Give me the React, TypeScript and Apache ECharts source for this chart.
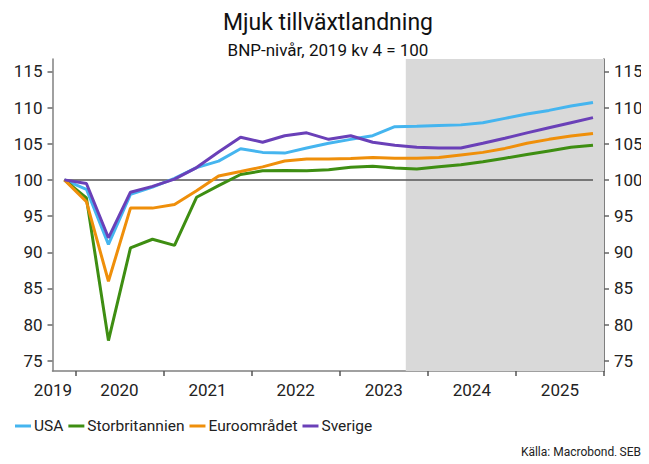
import React, { useEffect, useRef } from "react";
import * as echarts from "echarts";

const quarters = [
  "2019 kv4",
  "2020 kv1", "2020 kv2", "2020 kv3", "2020 kv4",
  "2021 kv1", "2021 kv2", "2021 kv3", "2021 kv4",
  "2022 kv1", "2022 kv2", "2022 kv3", "2022 kv4",
  "2023 kv1", "2023 kv2", "2023 kv3", "2023 kv4",
  "2024 kv1", "2024 kv2", "2024 kv3", "2024 kv4",
  "2025 kv1", "2025 kv2", "2025 kv3", "2025 kv4",
];

const usa = [
  100, 98.7, 91.1, 98.0, 99.0, 100.2, 101.7, 102.6, 104.3, 103.8, 103.7, 104.4, 105.05,
  105.6, 106.1, 107.35, 107.4, 107.5, 107.6, 107.9, 108.5, 109.1, 109.6, 110.2, 110.7,
];
const storbritannien = [
  100, 97.5, 77.8, 90.6, 91.8, 90.95, 97.6, 99.2, 100.75, 101.25, 101.3, 101.25, 101.4,
  101.75, 101.9, 101.65, 101.5, 101.8, 102.1, 102.5, 103.0, 103.5, 104.0, 104.5, 104.8,
];
const euroomradet = [
  100, 97.0, 86.0, 96.1, 96.1, 96.6, 98.5, 100.55, 101.15, 101.8, 102.6, 102.9, 102.9,
  102.95, 103.1, 103.0, 103.0, 103.1, 103.45, 103.8, 104.35, 105.05, 105.6, 106.05, 106.4,
];
const sverige = [
  100, 99.5, 92.0, 98.3, 99.1, 100.1, 101.7, 103.85, 105.9, 105.2, 106.1, 106.5, 105.6,
  106.1, 105.2, 104.8, 104.5, 104.4, 104.4, 105.05, 105.75, 106.5, 107.2, 107.9, 108.6,
];

const seriesNames = ["USA", "Storbritannien", "Euroområdet", "Sverige"];
const seriesColors = ["#45b5ef", "#3e8e12", "#ef8f0a", "#6a40b8"];
const seriesValues = [usa, storbritannien, euroomradet, sverige];

const yearTicks = [2020, 2021, 2022, 2023, 2024, 2025, 2026];
const yearLabels = [2019, 2020, 2021, 2022, 2023, 2024, 2025];
const yTicks = [75, 80, 85, 90, 95, 100, 105, 110, 115];
const forecastStart = 2023.75;
const baseline = 100;

const quarterToX = (q: string) => {
  const [y, k] = q.split(" kv");
  return Number(y) + (Number(k) - 0.5) / 4;
};

const X_MIN = 2019.74;
const X_MAX = 2026.0;
const FONT = "Roboto";

export default function App() {
  const ref = useRef<HTMLDivElement>(null);

  useEffect(() => {
    if (!ref.current) return;
    const chart = echarts.init(ref.current, undefined, { renderer: "svg" });
    const xs = quarters.map(quarterToX);
    const labelVals = yearLabels.map((y) => (y === 2019 ? X_MIN + 0.005 : y + 0.5));

    const yAxisCommon = {
      type: "value",
      min: 73.6,
      max: 116.7,
      splitLine: { show: false },
      axisTick: { show: true, inside: false, length: 5, customValues: yTicks, lineStyle: { color: "#666", width: 1.5 } },
      axisLabel: { customValues: yTicks, fontFamily: FONT, fontSize: 17, color: "#222", margin: 10 },
    };

    const series: any[] = seriesValues.map((vals, i) => ({
      name: seriesNames[i],
      type: "line",
      data: vals.map((v, j) => [xs[j], v]),
      showSymbol: false,
      symbol: "none",
      lineStyle: { color: seriesColors[i], width: 3 },
      itemStyle: { color: seriesColors[i] },
      z: 5,
    }));
    series.push({
      name: "_bas",
      type: "line",
      data: [],
      markArea: {
        silent: true,
        itemStyle: { color: "#d9d9d9" },
        data: [[{ xAxis: forecastStart }, { xAxis: X_MAX }]],
      },
      markLine: {
        silent: true,
        symbol: "none",
        label: { show: false },
        lineStyle: { color: "#555", width: 1.5, type: "solid" },
        data: [[{ coord: [xs[0], baseline] }, { coord: [xs[xs.length - 1], baseline] }]],
      },
      z: 2,
    });

    chart.setOption({
      animation: false,
      textStyle: { fontFamily: FONT },
      title: [
        {
          text: "Mjuk tillväxtlandning",
          left: 328,
          textAlign: "center",
          top: 11,
          padding: 0,
          textStyle: { fontFamily: FONT, fontSize: 23, fontWeight: "normal", color: "#111" },
        },
        {
          text: "BNP-nivår, 2019 kv 4 = 100",
          left: 328,
          textAlign: "center",
          top: 41,
          padding: 0,
          textStyle: { fontFamily: FONT, fontSize: 17, fontWeight: "normal", color: "#111" },
        },
        {
          text: "Källa: Macrobond, SEB",
          right: 8,
          top: 446,
          padding: 0,
          textStyle: { fontFamily: FONT, fontSize: 12, fontWeight: "normal", color: "#222" },
        },
      ],
      legend: {
        data: seriesNames,
        left: 10,
        top: 413,
        icon: "rect",
        itemWidth: 16,
        itemHeight: 3,
        itemGap: 5,
        textStyle: { fontFamily: FONT, fontSize: 15.5, color: "#222", padding: [0, 0, 0, -2] },
      },
      grid: { left: 52.5, right: 45, top: 59, bottom: 93, containLabel: false },
      xAxis: {
        type: "value",
        min: X_MIN,
        max: X_MAX,
        splitLine: { show: false },
        axisLine: { show: true, onZero: false, lineStyle: { color: "#808080", width: 1.5 } },
        axisTick: { show: true, length: 5, customValues: yearTicks, lineStyle: { color: "#555", width: 1.5 } },
        axisLabel: {
          customValues: labelVals,
          fontFamily: FONT,
          fontSize: 17,
          color: "#222",
          margin: 10,
          formatter: (v: number) => String(Math.floor(v)),
        },
      },
      yAxis: [
        {
          ...yAxisCommon,
          position: "left",
          axisLine: { show: true, lineStyle: { color: "#808080", width: 1.5 } },
        },
        {
          ...yAxisCommon,
          position: "right",
          axisLine: { show: true, lineStyle: { color: "#555", width: 1.5 } },
        },
      ],
      series,
    });
    return () => chart.dispose();
  }, []);

  return <div ref={ref} style={{ width: 649, height: 464, margin: -8 }} />;
}
